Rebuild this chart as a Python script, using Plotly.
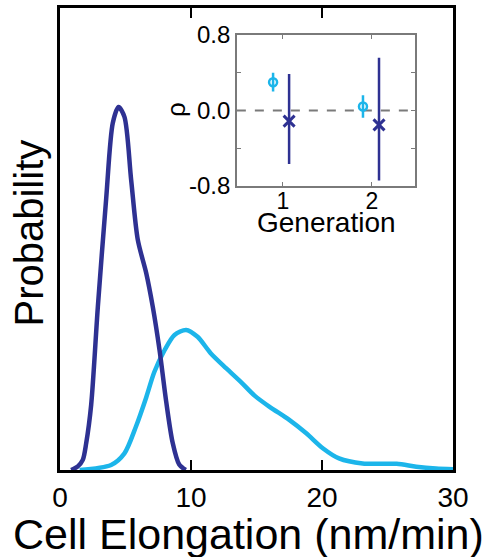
import plotly.graph_objects as go

# Main panel: probability density of cell elongation rate
dark_x = [0.85, 1.36, 1.74, 2.0, 2.38, 2.89, 3.53, 4.03, 4.47, 4.92, 5.43, 5.94, 6.58, 7.08, 7.6, 8.1, 8.6, 9.1, 9.6]
dark_y = [0.0, 0.01, 0.028, 0.074, 0.18, 0.45, 0.75, 0.956, 1.0, 0.973, 0.80, 0.634, 0.543, 0.45, 0.33, 0.19, 0.075, 0.015, 0.0]

cyan_x = [1.5, 3.9, 4.92, 5.8, 6.58, 7.2, 7.98, 8.74, 9.63, 10.5, 11.5, 12.7, 13.8, 14.85, 16.0, 17.5, 18.8, 20.06, 21.3, 23.1, 25.7, 27.2, 28.7, 30.0]
cyan_y = [0.0, 0.014, 0.046, 0.12, 0.20, 0.27, 0.33, 0.372, 0.386, 0.367, 0.322, 0.28, 0.243, 0.205, 0.174, 0.138, 0.101, 0.06, 0.032, 0.018, 0.017, 0.009, 0.004, 0.002]

x_ticks = [0, 10, 20, 30]

# Inset: correlation coefficient per generation
gen_cyan_x = [0.89, 1.9]
gen_cyan_y = [0.30, 0.042]
gen_cyan_up = [0.10, 0.12]
gen_cyan_dn = [0.10, 0.12]

gen_dark_x = [1.07, 2.08]
gen_dark_y = [-0.113, -0.152]
gen_dark_up = [0.50, 0.71]
gen_dark_dn = [0.455, 0.59]

inset_yticks = [-0.8, -0.4, 0.0, 0.4, 0.8]
inset_yticktext = ["-0.8", "", "0.0", "", "0.8"]
inset_xticks = [1, 2]

DARK = "#2E3192"
CYAN = "#1CB5EA"
GRAY = "#7a7a7a"
FONT = "Liberation Sans, Arial, sans-serif"

fig = go.Figure()

fig.add_trace(go.Scatter(x=cyan_x, y=cyan_y, mode="lines",
                         line=dict(color=CYAN, width=4.5, shape="spline", smoothing=0.8),
                         xaxis="x", yaxis="y", showlegend=False))
fig.add_trace(go.Scatter(x=dark_x, y=dark_y, mode="lines",
                         line=dict(color=DARK, width=4.5, shape="spline", smoothing=0.8),
                         xaxis="x", yaxis="y", showlegend=False))

fig.add_trace(go.Scatter(x=gen_cyan_x, y=gen_cyan_y, mode="markers",
                         marker=dict(symbol="circle-open", size=8, color=CYAN, line=dict(width=2.5, color=CYAN)),
                         error_y=dict(type="data", symmetric=False, array=gen_cyan_up, arrayminus=gen_cyan_dn,
                                      color=CYAN, thickness=2.5, width=0),
                         xaxis="x2", yaxis="y2", showlegend=False))
fig.add_trace(go.Scatter(x=gen_dark_x, y=gen_dark_y, mode="markers",
                         marker=dict(symbol="x-thin-open", size=11, color=DARK, line=dict(width=3, color=DARK)),
                         error_y=dict(type="data", symmetric=False, array=gen_dark_up, arrayminus=gen_dark_dn,
                                      color=DARK, thickness=2.5, width=0),
                         xaxis="x2", yaxis="y2", showlegend=False))

fig.update_layout(
    width=488, height=557,
    margin=dict(l=60, r=35, t=8, b=87, autoexpand=False),
    paper_bgcolor="white", plot_bgcolor="rgba(0,0,0,0)",
    font=dict(family=FONT, color="black"),
    xaxis=dict(domain=[0, 1], range=[0, 30], tickvals=x_ticks, ticks="inside", ticklen=10, tickwidth=2,
               tickcolor="black", showline=True, linecolor="black", linewidth=2.5, mirror="ticks",
               showgrid=False, zeroline=False, tickfont=dict(size=28), ticklabelstandoff=1,
               automargin=False),
    yaxis=dict(domain=[0, 1], range=[0, 1.273], showticklabels=False, ticks="", showline=True,
               linecolor="black", linewidth=2.5, mirror=True, showgrid=False, zeroline=False,
               automargin=False),
    xaxis2=dict(domain=[0.450, 0.903], anchor="y2", range=[0.483, 2.483], tickvals=inset_xticks,
                ticks="inside", ticklen=4, tickcolor=GRAY, showline=True, linecolor=GRAY, linewidth=1.5,
                mirror="ticks", showgrid=False, zeroline=False, tickfont=dict(size=23),
                ticklabelstandoff=-6, automargin=False),
    yaxis2=dict(domain=[0.6147, 0.9416], anchor="x2", range=[-0.8, 0.8], tickvals=inset_yticks,
                ticktext=inset_yticktext, ticks="inside", ticklen=4, tickcolor=GRAY, showline=True,
                linecolor=GRAY, linewidth=1.5, mirror="ticks", showgrid=False, zeroline=False,
                tickfont=dict(size=24), automargin=False),
    shapes=[dict(type="line", xref="x2 domain", yref="y2", x0=0, x1=1, y0=0, y1=0,
                 line=dict(color=GRAY, width=1.8, dash="dash"), layer="below")],
    annotations=[
        dict(text="Cell Elongation (nm/min)", xref="paper", yref="paper", x=(248 - 60) / 393,
             y=(470 - 534) / 462, xanchor="center", yanchor="middle", showarrow=False,
             font=dict(size=43)),
        dict(text="Probability", xref="paper", yref="paper", x=(28 - 60) / 393, y=(470 - 233.5) / 462,
             xanchor="center", yanchor="middle", textangle=-90, showarrow=False, font=dict(size=40)),
        dict(text="Generation", xref="paper", yref="paper", x=(326 - 60) / 393, y=(470 - 222) / 462,
             xanchor="center", yanchor="middle", showarrow=False, font=dict(size=28)),
        dict(text="ρ", xref="paper", yref="paper", x=(176 - 60) / 393, y=(470 - 110) / 462,
             xanchor="center", yanchor="middle", textangle=-90, showarrow=False, font=dict(size=26)),
    ],
)

fig.write_html("out.html", config={"displayModeBar": False},
               post_script="document.body.style.margin='0';document.body.style.overflow='hidden';")
